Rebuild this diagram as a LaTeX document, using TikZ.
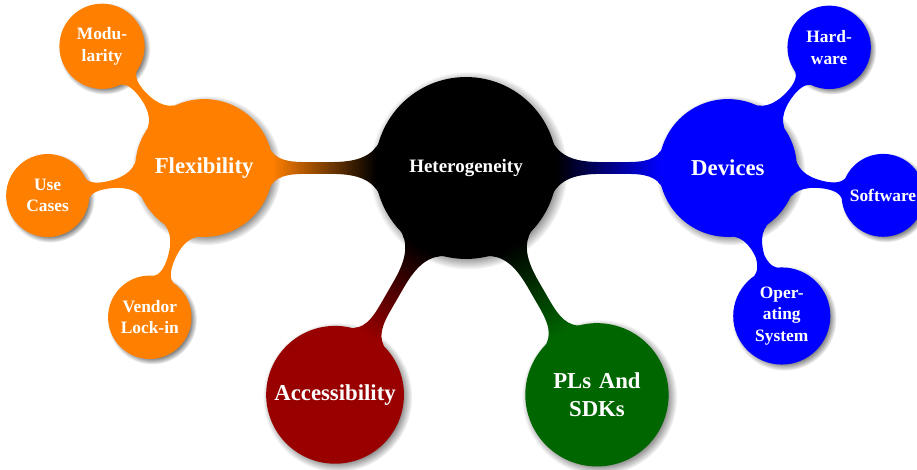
\documentclass[tikz,border=0pt]{standalone}
\usepackage{fontspec}
\setmainfont{Liberation Serif}
\usepackage{tikz}
\usetikzlibrary{mindmap,shadows,calc,positioning}

\begin{document}
\begin{tikzpicture}[mindmap, text=white,
  every node/.style={concept, circular drop shadow, execute at begin node=\hskip0pt},
  topic/.style={minimum size=4cm, text width=3.6cm, font=\fontsize{12}{14}\selectfont\bfseries},
  area/.style={minimum size=3.02cm, text width=2.9cm, font=\fontsize{14.4}{18}\selectfont\bfseries},
  leaf/.style={minimum size=1.8cm, text width=1.55cm, font=\fontsize{11}{13.6}\selectfont\bfseries}]
\useasboundingbox (-10.356,-6.711) rectangle (10.022,3.733);
\node[topic, concept color=black] (H) at (0,0) {Heterogeneity};
\node[area, concept color=orange] (F) at ($(H)+(180:5.82)$) {Flexibility};
\node[area, concept color=blue] (D) at ($(H)+(0:5.82)$) {Devices};
\node[area, concept color=red!60!black] (A) at ($(H)+(240:5.82)$) {Accessibility};
\node[area, concept color=green!40!black] (P) at ($(H)+(300:5.82)$) {PLs And SDKs};
\node[leaf, concept color=orange] (F1) at ($(F)+(130:3.53)$) {Modu\-larity};
\node[leaf, concept color=orange] (F2) at ($(F)+(190:3.53)$) {Use Cases};
\node[leaf, concept color=orange] (F3) at ($(F)+(250:3.53)$) {Vendor Lock-in};
\node[leaf, concept color=blue] (D1) at ($(D)+(50:3.5)$) {Hard\-ware};
\node[leaf, concept color=blue] (D2) at ($(D)+(-10:3.5)$) {Software};
\node[leaf, concept color=blue] (D3) at ($(D)+(-70:3.5)$) {Oper\-ating System};
\path (H) to[circle connection bar switch color=from (black) to (orange)] (F);
\path (H) to[circle connection bar switch color=from (black) to (blue)] (D);
\path (H) to[circle connection bar switch color=from (black) to (red!60!black)] (A);
\path (H) to[circle connection bar switch color=from (black) to (green!40!black)] (P);
\foreach \n in {F1,F2,F3}
  \path (F) to[circle connection bar switch color=from (orange) to (orange)] (\n);
\foreach \n in {D1,D2,D3}
  \path (D) to[circle connection bar switch color=from (blue) to (blue)] (\n);
\end{tikzpicture}
\end{document}
